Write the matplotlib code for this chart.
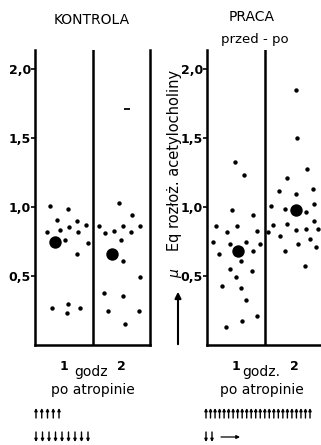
import matplotlib
matplotlib.use("Agg")
import matplotlib.pyplot as plt
import numpy as np

# values (uEq of hydrolysed acetylcholine)
kontrola_1_x = [0.76, 1.08, 0.89, 1.225, 1.38, 1.09, 0.935, 0.714, 1.24, 1.02, 1.42, 1.235, 0.79, 1.08, 1.05, 1.29]
kontrola_1_y = [1.01, 0.99, 0.91, 0.90, 0.87, 0.855, 0.835, 0.82, 0.82, 0.76, 0.74, 0.66, 0.27, 0.295, 0.23, 0.27]
kontrola_2_x = [1.966, 2.19, 1.613, 2.025, 2.33, 1.874, 1.717, 2.17, 2.0, 2.025, 2.32, 1.705, 2.036, 1.764, 2.31, 2.065]
kontrola_2_y = [1.03, 0.94, 0.865, 0.86, 0.86, 0.83, 0.81, 0.82, 0.76, 0.61, 0.495, 0.38, 0.355, 0.25, 0.25, 0.15]
kontrola_mean_x = [0.853, 1.834]
kontrola_mean_y = [0.75, 0.66]
kontrola_dash = (2.095, 1.71)

praca_1_x = [0.979, 1.13, 0.933, 1.29, 0.658, 1.02, 0.846, 1.37, 0.6, 0.904, 1.167, 1.41, 0.705,
             1.30, 1.08, 0.904, 1.27, 0.996, 0.75, 1.09, 1.167, 1.365, 1.11, 0.82]
praca_1_y = [1.33, 1.23, 0.98, 0.94, 0.86, 0.865, 0.82, 0.83, 0.75, 0.73, 0.745, 0.735, 0.66,
             0.68, 0.61, 0.55, 0.54, 0.49, 0.43, 0.415, 0.325, 0.21, 0.175, 0.13]
praca_2_x = [2.03, 2.06, 2.23, 1.88, 1.746, 2.04, 2.32, 1.6, 1.84, 2.2, 2.34, 1.635, 1.886,
             2.34, 1.547, 2.03, 2.2, 2.42, 1.76, 2.28, 2.07, 1.84, 2.38, 2.19]
praca_2_y = [1.85, 1.505, 1.28, 1.215, 1.12, 1.095, 1.13, 1.01, 0.985, 0.965, 1.02, 0.87, 0.88,
             0.90, 0.82, 0.835, 0.845, 0.84, 0.79, 0.77, 0.73, 0.68, 0.71, 0.57]
praca_mean_x = [1.04, 2.03]
praca_mean_y = [0.68, 0.98]

yticks = [0.5, 1.0, 1.5, 2.0]
ytick_labels = ["0,5", "1,0", "1,5", "2,0"]
xticks = [1, 2]
xtick_labels = ["1", "2"]

# arrow counts under each panel
kontrola_up, kontrola_down = 5, 9
praca_up, praca_down = 24, 2

W, H = 321, 445
fig = plt.figure(figsize=(W / 100, H / 100), dpi=100)
fig.patch.set_facecolor("white")


def fx(x):
    return x / W


def fy(y):
    return 1 - y / H


def panel(rect, right_spine):
    ax = fig.add_axes(rect)
    ax.set_xlim(0.5, 2.5)
    ax.set_ylim(0, 2.14)
    ax.spines["top"].set_visible(False)
    ax.spines["right"].set_visible(right_spine)
    for s in ["left", "bottom", "right"]:
        ax.spines[s].set_linewidth(1.8)
    ax.axvline(1.5, color="black", lw=1.8)
    ax.set_yticks(yticks)
    ax.set_yticklabels(ytick_labels, fontsize=9, fontweight="bold")
    ax.set_xticks(xticks)
    ax.set_xticklabels(xtick_labels, fontsize=9, fontweight="bold")
    ax.tick_params(axis="y", direction="out", length=3, width=1.2, pad=0)
    ax.tick_params(axis="x", length=0, pad=11)
    return ax


ax1 = panel([fx(35), 100 / H, 115 / W, 295 / H], True)
ax2 = panel([fx(207), 100 / H, 116 / W, 295 / H], False)

ax1.scatter(kontrola_1_x + kontrola_2_x, kontrola_1_y + kontrola_2_y, s=10, color="black", lw=0)
ax1.scatter(kontrola_mean_x, kontrola_mean_y, s=80, color="black", lw=0)
ax1.plot([kontrola_dash[0]], [kontrola_dash[1]], marker="_", ms=5, mew=1.3, color="black")

ax2.scatter(praca_1_x + praca_2_x, praca_1_y + praca_2_y, s=10, color="black", lw=0)
ax2.scatter(praca_mean_x, praca_mean_y, s=80, color="black", lw=0)

# titles
fig.text(fx(92), fy(20), "KONTROLA", ha="center", va="center", fontsize=10)
fig.text(fx(252), fy(17), "PRACA", ha="center", va="center", fontsize=10)
fig.text(fx(255), fy(40), "przed - po", ha="center", va="center", fontsize=9.5)

# x labels
fig.text(fx(91), fy(372), "godz", ha="center", va="center", fontsize=10)
fig.text(fx(93), fy(390), "po atropinie", ha="center", va="center", fontsize=10)
fig.text(fx(261), fy(372), "godz.", ha="center", va="center", fontsize=10)
fig.text(fx(262), fy(390), "po atropinie", ha="center", va="center", fontsize=10)

# rotated unit label with arrow
fig.text(fx(175), fy(160), "Eq rozłoż. acetylocholiny", rotation=90, ha="center", va="center", fontsize=10.5)
fig.text(fx(175), fy(274), "μ", rotation=90, ha="center", va="center", fontsize=10, style="italic")
fig.add_artist(matplotlib.patches.FancyArrowPatch((fx(178), fy(347)), (fx(178), fy(289)),
                                                  transform=fig.transFigure, arrowstyle="-|>",
                                                  mutation_scale=9, lw=1.5, color="black"))

# rows of arrows under the panels
ov = fig.add_axes([0, 0, 1, 1])
ov.set_xlim(0, W)
ov.set_ylim(H, 0)
ov.axis("off")


def arrow_row(x0, x1, n, y, up):
    xs = np.linspace(x0, x1, n)
    for x in xs:
        a, b = (y + 5, y - 5) if up else (y - 5, y + 5)
        ov.annotate("", xy=(x, b), xytext=(x, a),
                    arrowprops=dict(arrowstyle="-|>", lw=1.0, color="black", mutation_scale=4,
                                    shrinkA=0, shrinkB=0))


arrow_row(36, 59, kontrola_up, 413, True)
arrow_row(36, 88, kontrola_down, 437, False)
arrow_row(206, 310, praca_up, 413, True)
arrow_row(206, 212, praca_down, 437, False)
ov.annotate("", xy=(240, 437), xytext=(221, 437),
            arrowprops=dict(arrowstyle="-|>", lw=0.9, color="black", mutation_scale=5,
                            shrinkA=0, shrinkB=0))

fig.savefig("out.png", dpi=100)
